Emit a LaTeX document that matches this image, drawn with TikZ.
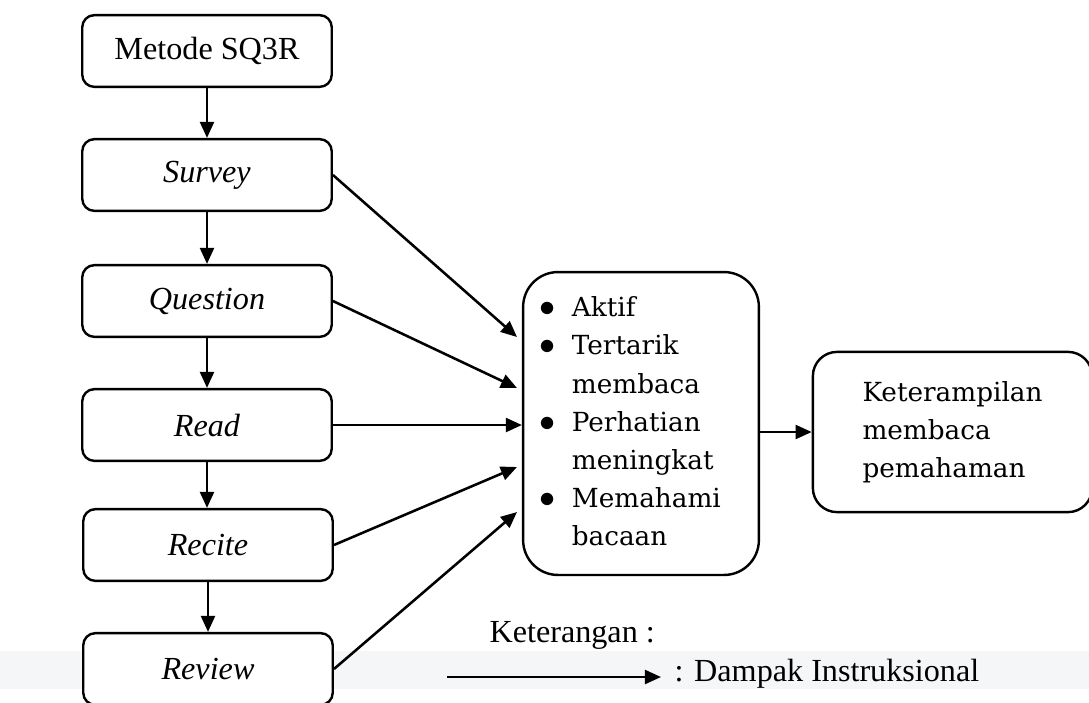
\documentclass[tikz,border=0pt]{standalone}
\usepackage{fontspec}
\setmainfont{Liberation Serif}
\newfontfamily\cambria{DejaVu Serif}
\usetikzlibrary{arrows.meta,positioning}
\definecolor{bandgrey}{HTML}{F5F6F8}
\newcommand{\effectdot}{{\fontsize{11.5}{12}\selectfont$\bullet$}}
\tikzset{
    stepbox/.style={draw, line width=0.9pt, rounded corners=4.5pt, fill=white, minimum width=3.27cm, minimum height=0.94cm, font=\fontsize{12}{14}\selectfont},
    arr/.style={-{Triangle[length=6pt,width=5.2pt]}, line width=0.95pt},
    effectfont/.style={font=\cambria\fontsize{9.8}{14.2}\selectfont}
}

\begin{document}
\begin{tikzpicture}[x=0.0131cm,y=-0.0131cm]
            \useasboundingbox (0,0) rectangle (1089,702);
            \fill[bandgrey] (0,651) rectangle (1089,689);
            \node[stepbox] (sq3r) at (207,51) {Metode SQ3R};
            \node[stepbox] (survey) at (207,175) {\textit{Survey}};
            \node[stepbox] (question) at (207,301) {\textit{Question}};
            \node[stepbox] (read) at (207,425) {\textit{Read}};
            \node[stepbox] (recite) at (208,545) {\textit{Recite}};
            \node[stepbox] (review) at (208,669) {\textit{Review}};
            \draw[arr] (sq3r) -- (survey);
            \draw[arr] (survey) -- (question);
            \draw[arr] (question) -- (read);
            \draw[arr] (read.south) -- (read.south |- recite.north);
            \draw[arr] (recite) -- (review);
            \node[draw, line width=0.9pt, rounded corners=13pt, minimum width=3.09cm, minimum height=3.97cm, effectfont] (effect) at (641,423.5)
                {\begin{tabular}{@{}l@{\hspace{6pt}}l@{\hspace{8pt}}}
                    \effectdot & Aktif\\
                    \effectdot & Tertarik\\
                               & membaca\\
                    \effectdot & Perhatian\\
                               & meningkat\\
                    \effectdot & Memahami\\
                               & bacaan
                \end{tabular}};
            \node[draw, line width=0.9pt, rounded corners=9pt, minimum width=3.66cm, minimum height=2.10cm, align=left, effectfont] (skill) at (952.5,432)
                {Keterampilan\\membaca\\pemahaman};
            \coordinate (in1) at (517,337);
            \coordinate (in2) at (517,388);
            \coordinate (in4) at (517,467);
            \coordinate (in5) at (517,512);
            \draw[arr] (survey.east) -- (in1);
            \draw[arr] (question.east) -- (in2);
            \draw[arr] (read.east) -- (read.east -| effect.west);
            \draw[arr] (recite.east) -- (in4);
            \draw[arr] (review.east) -- (in5);
            \draw[arr] (effect.east |- skill.west) -- (skill.west);
            \node[anchor=base west, inner sep=0, font=\fontsize{12}{14}\selectfont] (legend) at (489,642) {Keterangan :};
            \coordinate (keystart) at (447,677);
            \coordinate (keyend) at (661,677);
            \node[anchor=base west, inner sep=0, font=\fontsize{12}{14}\selectfont] (keytext) at (674,681) {: Dampak Instruksional};
            \draw[arr] (keystart) -- (keyend);
        \end{tikzpicture}
\end{document}
